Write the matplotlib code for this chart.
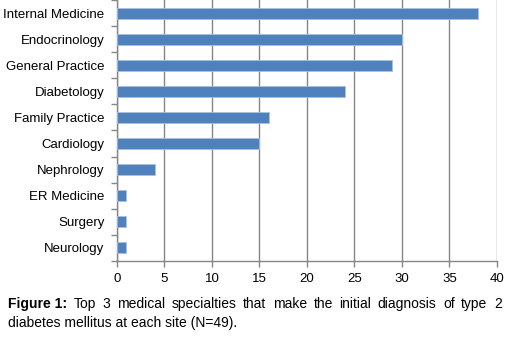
import matplotlib.pyplot as plt
import numpy as np

plt.rcParams['font.family'] = ['Liberation Sans', 'DejaVu Sans']

specialties = ["Internal Medicine", "Endocrinology", "General Practice", "Diabetology",
               "Family Practice", "Cardiology", "Nephrology", "ER Medicine",
               "Surgery", "Neurology"]
counts = [38, 30, 29, 24, 16, 15, 4, 1, 1, 1]
xticks = [0, 5, 10, 15, 20, 25, 30, 35, 40]

caption_line1 = "Top 3 medical specialties that make the initial diagnosis of type 2"
caption_line2 = "diabetes mellitus at each site (N=49)."

fig = plt.figure(figsize=(5.08, 3.44), dpi=100)
ax = fig.add_axes([0.2303, 0.2413, 0.7480, 0.7587])

y = np.arange(len(specialties))
ax.barh(y, counts, height=0.42, color='#4F81BD', edgecolor='#A9BFDD', linewidth=0.6, zorder=3)
ax.set_ylim(len(specialties) - 0.5, -0.5)
ax.set_xlim(0, 40)
ax.set_xticks(xticks)
ax.set_yticks(y)
ax.set_yticklabels(specialties)
ax.set_yticks(np.arange(len(specialties) + 1) - 0.5, minor=True)

ax.grid(axis='x', color='#868686', linewidth=1.0, zorder=0)
for s in ['top', 'right']:
    ax.spines[s].set_visible(False)
for s in ['left', 'bottom']:
    ax.spines[s].set_color('#868686')
    ax.spines[s].set_linewidth(1.0)

ax.tick_params(axis='y', which='major', length=0, pad=9, labelsize=9.5)
ax.tick_params(axis='y', which='minor', length=4, color='#868686', width=1.0)
ax.tick_params(axis='x', length=4, color='#868686', width=1.0, pad=5, labelsize=9.5)

# justified first caption line
W, H = fig.get_size_inches() * fig.dpi
x0, x1 = 8, 502
base1 = 1 - 308 / H
words = [("Figure 1:", 'bold')] + [(w, 'normal') for w in caption_line1.split()]
texts = [fig.text(0, base1, w, fontsize=10, fontweight=fw, va='baseline') for w, fw in words]
renderer = fig.canvas.get_renderer()
widths = [t.get_window_extent(renderer).width for t in texts]
gap = (x1 - x0 - sum(widths)) / (len(texts) - 1)
xpos = x0
for t, w in zip(texts, widths):
    t.set_x(xpos / W)
    xpos += w + gap

fig.text(x0 / W, 1 - 327 / H, caption_line2, fontsize=10, va='baseline')

fig.savefig("out.png", dpi=100)
